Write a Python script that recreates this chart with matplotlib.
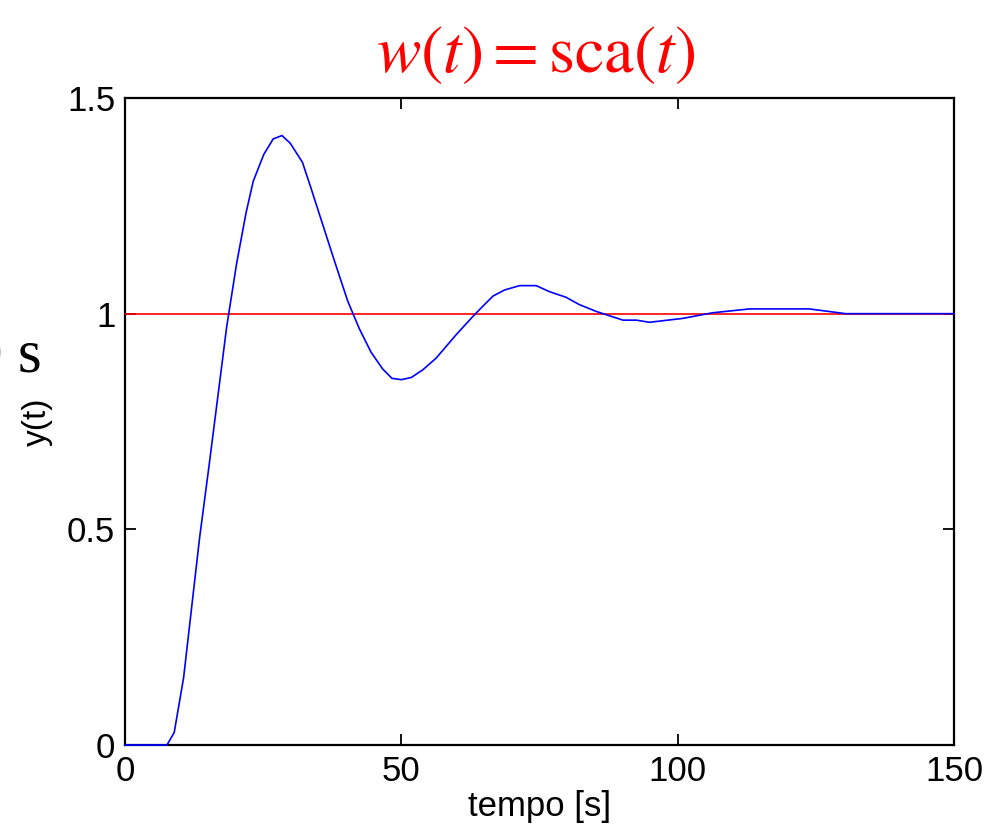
import matplotlib
matplotlib.use("Agg")
from matplotlib import pyplot as plt
import numpy as np

# step response
tempo = [0, 7.6, 8.9, 10.6, 13.5, 15.2, 18.4, 20.2, 21.9, 23.2, 25.1, 26.8, 28.4, 29.9,
         32.1, 33.6, 37.8, 40.3, 42.4, 44.5, 46.6, 48.3, 50.0, 51.8, 53.9, 56.3, 59.9,
         62.9, 64.8, 66.6, 68.7, 71.4, 74.4, 76.8, 79.8, 82.2, 85.3, 90.1, 92.5, 94.9,
         100.9, 106.3, 113.0, 123.8, 130.4, 150]
y_out = [0, 0, 0.029, 0.156, 0.481, 0.647, 0.970, 1.117, 1.234, 1.307, 1.369, 1.405, 1.413,
         1.395, 1.351, 1.293, 1.126, 1.029, 0.965, 0.911, 0.872, 0.850, 0.847, 0.852, 0.870,
         0.897, 0.951, 0.993, 1.018, 1.041, 1.055, 1.065, 1.065, 1.051, 1.038, 1.021, 1.005,
         0.985, 0.985, 0.980, 0.989, 1.002, 1.011, 1.011, 1.0, 1.0]
rif_t = [0, 150]
rif_w = [1, 1]

xticks = [0, 50, 100, 150]
yticks = [0, 0.5, 1, 1.5]
ytick_labels = ["0", "0.5", "1", "1.5"]

plt.rcParams['font.family'] = ['Liberation Sans', 'DejaVu Sans']
plt.rcParams['mathtext.fontset'] = 'stix'

fig = plt.figure(figsize=(9.97, 8.32), dpi=100)
ax = fig.add_axes([0.1254, 0.1046, 0.8315, 0.7776])

ax.plot(rif_t, rif_w, color='#ff0000', lw=1.2, zorder=3)
ax.plot(tempo, y_out, color='#0000ff', lw=1.2, zorder=4, clip_on=False)

ax.set_xlim(0, 150)
ax.set_ylim(0, 1.5)
ax.set_xticks(xticks)
ax.set_yticks(yticks)
ax.set_yticklabels(ytick_labels)
ax.tick_params(direction='in', length=8, width=1.3, labelsize=25,
               top=True, right=True, pad=7)
for sp in ax.spines.values():
    sp.set_linewidth(1.6)
    sp.set_zorder(2)

ax.set_xlabel("tempo [s]", fontsize=25, labelpad=2)
ax.set_ylabel("y(t)", fontsize=24, labelpad=10)

fig.text(0.537, 0.913, r"$w(t)=\mathrm{sca}(t)$", color='#ff0000',
         fontsize=48, ha='center', va='baseline')
# leftover piece of a slide label, cut by the border
fig.text(42 / 997, 1 - 372 / 832, "0 s", fontsize=44,
         family=['Liberation Serif', 'DejaVu Serif'], ha='right', va='baseline')

fig.savefig("out.png", dpi=100)
